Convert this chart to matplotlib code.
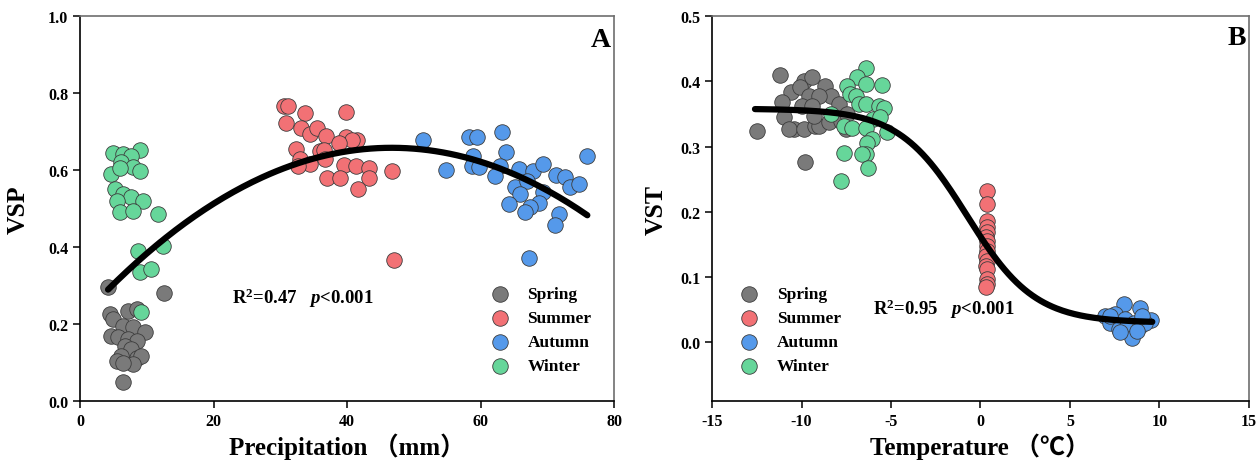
import numpy as np
import matplotlib
matplotlib.use('Agg')
import matplotlib.pyplot as plt

plt.rcParams['font.family'] = ['Liberation Serif', 'Noto Sans CJK SC']
plt.rcParams['font.weight'] = 'bold'
plt.rcParams['axes.unicode_minus'] = False
plt.rcParams['mathtext.fontset'] = 'custom'
plt.rcParams['mathtext.rm'] = 'Liberation Serif:bold'
plt.rcParams['mathtext.it'] = 'Liberation Serif:italic:bold'
plt.rcParams['mathtext.bf'] = 'Liberation Serif:bold'

seasons = ['Spring', 'Summer', 'Autumn', 'Winter']
colors = ['#7a7a7a', '#f27175', '#5599ea', '#66d69a']

# panel A: precipitation vs VSP
pre_spring = [4.2, 12.6, 6.5, 4.5, 5.0, 7.2, 8.5, 6.5, 8.0, 9.7, 4.7, 5.7, 7.2, 8.5, 6.7, 7.7, 6.2, 5.5, 8.5, 9.2, 8.0, 6.5]
vsp_spring = [0.295, 0.280, 0.049, 0.226, 0.213, 0.235, 0.239, 0.196, 0.191, 0.178, 0.170, 0.165, 0.161, 0.157, 0.144, 0.135, 0.118, 0.105, 0.113, 0.118, 0.096, 0.100]
pre_summer = [30.5, 31.2, 33.7, 39.8, 30.9, 33.1, 34.4, 35.5, 36.9, 39.8, 41.5, 40.7, 38.8, 32.4, 36.0, 36.5, 33.0, 34.5, 36.7, 32.7, 39.6, 41.3, 43.3, 37.0, 39.0, 43.3, 41.7, 46.7, 47.0]
vsp_summer = [0.767, 0.767, 0.748, 0.751, 0.722, 0.708, 0.694, 0.708, 0.689, 0.685, 0.679, 0.677, 0.670, 0.655, 0.650, 0.653, 0.629, 0.616, 0.629, 0.611, 0.613, 0.610, 0.604, 0.578, 0.578, 0.578, 0.552, 0.598, 0.367]
pre_autumn = [51.4, 58.2, 59.4, 63.2, 63.8, 58.8, 58.7, 59.8, 54.9, 62.9, 62.2, 65.7, 67.9, 69.4, 71.3, 72.7, 73.4, 74.8, 75.9, 65.2, 66.9, 65.9, 69.4, 64.2, 68.8, 67.4, 66.7, 71.8, 71.1, 67.3]
vsp_autumn = [0.679, 0.685, 0.685, 0.700, 0.646, 0.637, 0.610, 0.607, 0.600, 0.611, 0.585, 0.603, 0.598, 0.616, 0.587, 0.581, 0.555, 0.564, 0.637, 0.555, 0.572, 0.538, 0.542, 0.512, 0.514, 0.503, 0.490, 0.487, 0.457, 0.371]
pre_winter = [4.9, 6.5, 9.0, 7.7, 6.2, 8.0, 9.0, 4.7, 6.0, 5.2, 6.5, 7.7, 9.5, 5.5, 6.0, 8.0, 11.7, 8.7, 12.5, 9.0, 10.7, 9.2]
vsp_winter = [0.644, 0.642, 0.653, 0.637, 0.620, 0.607, 0.598, 0.590, 0.604, 0.551, 0.538, 0.529, 0.520, 0.520, 0.490, 0.494, 0.486, 0.390, 0.403, 0.335, 0.343, 0.230]

# panel B: temperature vs VST
tem_spring = [-11.21, -12.51, -9.78, -9.87, -9.40, -8.66, -10.61, -10.06, -9.59, -8.38, -9.03, -11.08, -9.96, -9.40, -7.92, -10.99, -10.43, -10.71, -9.87, -9.22, -9.03, -8.47, -7.82, -7.54, -7.45, -9.31]
vst_spring = [0.410, 0.324, 0.276, 0.401, 0.406, 0.393, 0.383, 0.391, 0.378, 0.378, 0.378, 0.368, 0.362, 0.362, 0.365, 0.345, 0.327, 0.327, 0.327, 0.332, 0.332, 0.337, 0.339, 0.327, 0.350, 0.347]
tem_summer = [0.34, 0.34, 0.34, 0.34, 0.34, 0.30, 0.34, 0.38, 0.34, 0.30, 0.34, 0.30, 0.34, 0.34, 0.34, 0.30]
vst_summer = [0.232, 0.212, 0.186, 0.176, 0.169, 0.161, 0.155, 0.148, 0.140, 0.132, 0.125, 0.117, 0.112, 0.097, 0.089, 0.084]
tem_autumn = [8.01, 8.94, 6.98, 7.54, 9.50, 8.10, 8.57, 7.26, 7.73, 8.19, 8.94, 9.22, 8.47, 7.82, 8.75, 7.26, 9.03]
vst_autumn = [0.058, 0.052, 0.040, 0.044, 0.034, 0.035, 0.030, 0.030, 0.020, 0.025, 0.025, 0.030, 0.007, 0.015, 0.017, 0.040, 0.040]
tem_winter = [-6.42, -6.89, -6.42, -5.49, -7.45, -7.30, -6.98, -6.80, -6.42, -5.68, -5.40, -8.38, -5.99, -5.59, -7.64, -7.17, -6.42, -5.21, -6.05, -6.33, -6.37, -6.61, -7.64, -6.30, -7.78]
vst_winter = [0.421, 0.406, 0.396, 0.395, 0.393, 0.380, 0.378, 0.365, 0.365, 0.362, 0.359, 0.350, 0.342, 0.345, 0.332, 0.329, 0.329, 0.322, 0.311, 0.306, 0.288, 0.288, 0.290, 0.267, 0.247]

# fitted curves (coefficients)
quad_coef = [-0.000204, 0.01905, 0.213]
pre_range = (4.2, 76.0)
logi_top, logi_bottom, logi_x0, logi_s = 0.358, 0.030, -0.75, 1.894
tem_range = (-12.6, 9.6)

fig = plt.figure(figsize=(12.58, 4.64), dpi=100)
axA = fig.add_axes([0.0636, 0.1336, 0.4245, 0.8297])
axB = fig.add_axes([0.566, 0.1336, 0.4268, 0.8297])


def style(ax):
    for s in ['left', 'bottom']:
        ax.spines[s].set_color('black')
        ax.spines[s].set_linewidth(1.2)
    for s in ['top', 'right']:
        ax.spines[s].set_color('#6e6e6e')
        ax.spines[s].set_linewidth(1.2)
    ax.tick_params(direction='out', length=5, width=1.1, labelsize=11.5,
                   top=False, right=False)
    for lab in ax.get_xticklabels() + ax.get_yticklabels():
        lab.set_fontweight('bold')


groups_A = [(pre_spring, vsp_spring), (pre_summer, vsp_summer),
            (pre_autumn, vsp_autumn), (pre_winter, vsp_winter)]
groups_B = [(tem_spring, vst_spring), (tem_summer, vst_summer),
            (tem_autumn, vst_autumn), (tem_winter, vst_winter)]

for (xs, ys), name, c in zip(groups_A, seasons, colors):
    axA.scatter(xs, ys, s=125, c=c, edgecolors='#3c3c3c', linewidths=0.6,
                label=name, zorder=2)
xf = np.linspace(*pre_range, 200)
axA.plot(xf, np.polyval(quad_coef, xf), color='black', lw=4.5,
         solid_capstyle='round', zorder=3)

for (xs, ys), name, c in zip(groups_B, seasons, colors):
    axB.scatter(xs, ys, s=125, c=c, edgecolors='#3c3c3c', linewidths=0.6,
                label=name, zorder=2)
tf = np.linspace(*tem_range, 200)
axB.plot(tf, logi_bottom + (logi_top - logi_bottom) / (1 + np.exp((tf - logi_x0) / logi_s)),
         color='black', lw=4.5, solid_capstyle='round', zorder=3)

axA.set_xlim(0, 80)
axA.set_ylim(0, 1.0)
axA.set_xticks([0, 20, 40, 60, 80])
axA.set_yticks(np.arange(0, 1.01, 0.2))
axA.yaxis.set_major_formatter(plt.FormatStrFormatter('%.1f'))
axB.set_xlim(-15, 15)
axB.set_ylim(-0.09, 0.5)
axB.set_xticks(np.arange(-15, 16, 5))
axB.set_yticks(np.arange(0, 0.51, 0.1))
axB.yaxis.set_major_formatter(plt.FormatStrFormatter('%.1f'))

style(axA)
style(axB)

axA.set_xlabel('Precipitation （mm）', fontsize=18, fontweight='bold')
axA.set_ylabel('VSP', fontsize=18.5, fontweight='bold')
axB.set_xlabel('Temperature （℃）', fontsize=18, fontweight='bold')
axB.set_ylabel('VST', fontsize=18.5, fontweight='bold')
axA.xaxis.set_label_coords(0.5, -0.082)
axB.xaxis.set_label_coords(0.5, -0.082)
axA.yaxis.set_label_coords(-0.094, 0.5)
axB.yaxis.set_label_coords(-0.082, 0.5)

axA.text(0.995, 0.94, 'A', transform=axA.transAxes, ha='right', va='center',
         fontsize=20, fontweight='bold')
axB.text(0.995, 0.945, 'B', transform=axB.transAxes, ha='right', va='center',
         fontsize=20, fontweight='bold')

axA.text(0.285, 0.27, r'R$^{2}$=0.47   $\mathit{p}$<0.001', transform=axA.transAxes,
         ha='left', va='center', fontsize=13.5)
axB.text(0.30, 0.24, r'R$^{2}$=0.95   $\mathit{p}$<0.001', transform=axB.transAxes,
         ha='left', va='center', fontsize=13.5)

for ax, xa in [(axA, 0.75), (axB, 0.033)]:
    ax.legend(loc='center left', bbox_to_anchor=(xa, 0.184), frameon=False,
              prop={'weight': 'bold', 'size': 12.5}, handletextpad=1.0,
              labelspacing=0.45, borderpad=0, handlelength=1.2, markerscale=1.0)

fig.savefig('out.png', dpi=100)
